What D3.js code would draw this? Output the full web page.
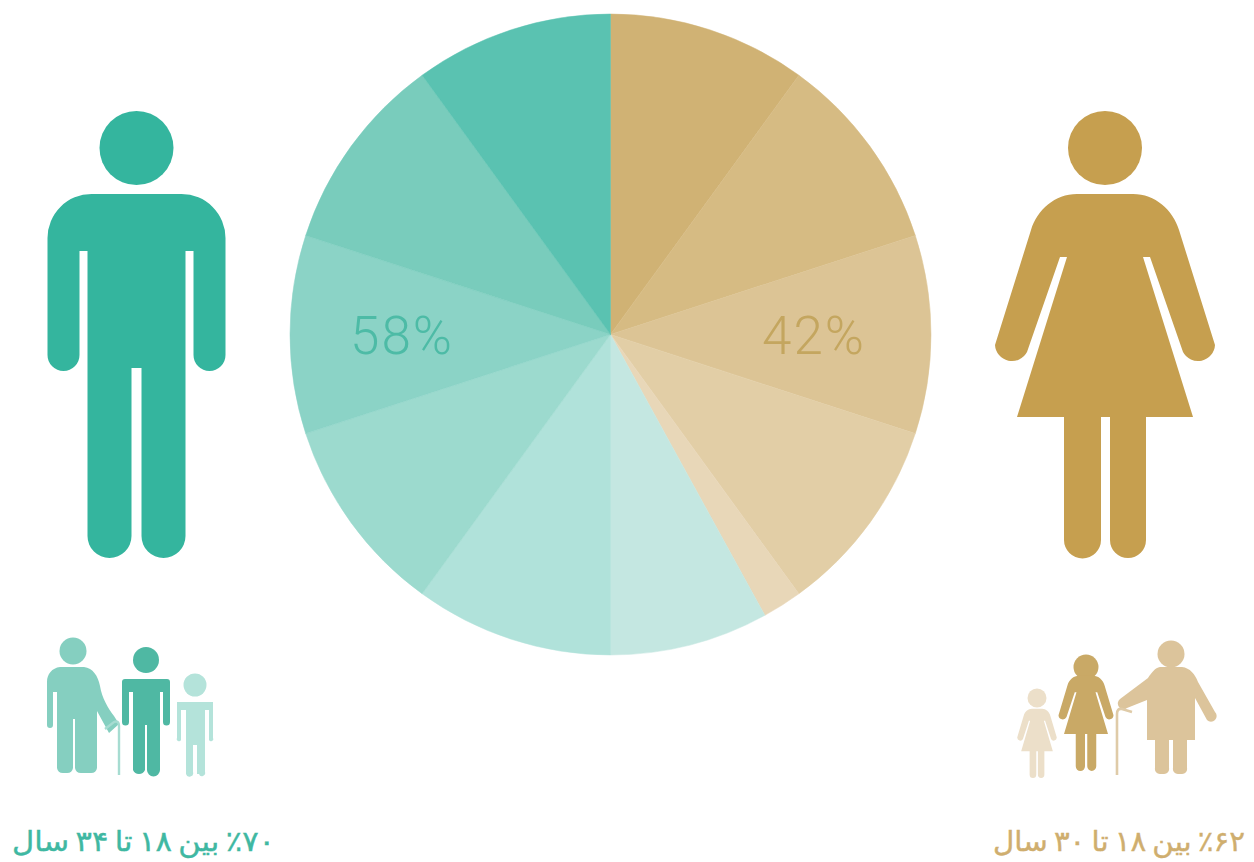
<!DOCTYPE html>
<html>
<head>
<meta charset="utf-8">
<script src="https://cdn.jsdelivr.net/npm/d3@7"></script>
<style>
body { margin: 0; background: #fff; }
svg { display: block; }
</style>
</head>
<body>
<script>
// slices, clockwise from 12 o'clock
var sliceValues = [10, 10, 10, 10, 2, 8, 10, 10, 10, 10, 10];
var sliceColors = ["#d0b274", "#d6bb83", "#dcc495", "#e2cea6", "#e8d7b8",
                   "#c4e7e1", "#b0e2da", "#9cdace", "#8bd3c6", "#79ccbc", "#5ac2b1"];
var shareLabels = ["58%", "42%"];
var captions = ["٪۷۰ بین ۱۸ تا ۳۴ سال", "٪۶۲ بین ۱۸ تا ۳۰ سال"];

var teal = "#34b59e";
var gold = "#c69f4f";

var w = 1254;
var h = 862;

var svg = d3.select("body").append("svg")
    .attr("width", w)
    .attr("height", h);

// pie
var pie = d3.pie().sort(null);
var arc = d3.arc().innerRadius(0).outerRadius(320.5);

svg.append("g")
    .attr("transform", "translate(610.5,334.5)")
    .selectAll("path")
    .data(pie(sliceValues))
    .enter()
    .append("path")
    .attr("d", arc)
    .attr("fill", function(d, i) { return sliceColors[i]; })
    .attr("stroke", function(d, i) { return sliceColors[i]; })
    .attr("stroke-width", 0.5);

svg.selectAll("text.share")
    .data(shareLabels)
    .enter()
    .append("text")
    .attr("class", "share")
    .attr("x", function(d, i) { return i == 0 ? 402 : 814; })
    .attr("y", 354)
    .attr("text-anchor", "middle")
    .attr("font-family", "Roboto, Lato, sans-serif")
    .attr("font-weight", 300)
    .attr("font-size", 53)
    .attr("letter-spacing", 2)
    .attr("fill", function(d, i) { return i == 0 ? "#4dbba6" : "#c4a65f"; })
    .text(function(d) { return d; });

// big man, drawn round x=0 with head above
var manPath = "M-45,194 H45 A44,44 0 0 1 89,238 V355 A16,16 0 0 1 57,355 V251 H49 V536 A22,22 0 0 1 5,536 V368 H-5 V536 A22,22 0 0 1 -49,536 V251 H-57 V355 A16,16 0 0 1 -89,355 V238 A44,44 0 0 1 -45,194 Z";
// big woman, same idea
var womanPath = "M-28,194 H28 C50,194 68,210 74,230 L110,345 A17,17 0 0 1 78,352 L45,257 H38 L88,417 H41 V540 A18,18 0 0 1 5,540 V417 H-4 V540 A18,18 0 0 1 -41,540 V417 H-88 L-38,257 H-45 L-78,352 A17,17 0 0 1 -110,345 L-74,230 C-68,210 -50,194 -28,194 Z";

function person(path, x, y, sx, sy, color, head) {
  svg.append("circle").attr("cx", x).attr("cy", head[0]).attr("r", head[1]).attr("fill", color);
  svg.append("path")
    .attr("d", path)
    .attr("transform", "translate(" + x + "," + y + ") scale(" + sx + "," + sy + ")")
    .attr("fill", color);
}

person(manPath, 136.5, 0, 1, 1, teal, [148, 37]);
person(womanPath, 1105, 0, 1, 1, gold, [148, 37]);

// small family, left
svg.append("circle").attr("cx", 73).attr("cy", 651).attr("r", 13.5).attr("fill", "#85cfc0");
svg.append("path")
    .attr("d", "M60,667 H84 C93,668 98,676 100,686 C102,698 108,708 114,716 L119,724 L109,733 L97,711 V768 A6,6 0 0 1 91,773 H81 A6,6 0 0 1 75,768 V719 H73 V768 A6,6 0 0 1 67,773 H63 A6,6 0 0 1 57,768 V692 H53 V725 A3,3 0 0 1 47,725 V682 C47,674 52,668 60,667 Z")
    .attr("fill", "#85cfc0");
svg.append("path")
    .attr("d", "M105,729 L114,722 Q119,720 119,726 V775")
    .attr("fill", "none")
    .attr("stroke", "#a6dcd1")
    .attr("stroke-width", 2.4);
svg.append("circle").attr("cx", 146).attr("cy", 660).attr("r", 13).attr("fill", "#4fb8a3");
svg.append("path")
    .attr("d", "M125,679 H167 Q170,679 170,682 V722 A3.5,3.5 0 0 1 163,722 V692 H160 V770 A6.5,6.5 0 0 1 147,770 V725 H145 V770 A6.5,6.5 0 0 1 133,770 V692 H129 V722 A3.5,3.5 0 0 1 122,722 V682 Q122,679 125,679 Z")
    .attr("fill", "#4fb8a3");
svg.append("circle").attr("cx", 195).attr("cy", 685).attr("r", 11.5).attr("fill", "#b4e3da");
svg.append("path")
    .attr("d", "M177,702 H213 V738 A2,2 0 0 1 209,740 V710 H205 V772 A3,3 0 0 1 199,774 H197 V745 H193 V772 A3,3 0 0 1 186,774 V710 H181 V740 A2,2 0 0 1 177,738 Z")
    .attr("fill", "#b4e3da");

// small family, right
svg.append("circle").attr("cx", 1171).attr("cy", 654).attr("r", 13.5).attr("fill", "#dcc49b");
svg.append("path")
    .attr("d", "M1160,667 H1182 C1190,668 1195,674 1198,682 L1215,712 A5,5 0 0 1 1207,720 L1195,698 V740 H1187 V768 A5,5 0 0 1 1182,774 H1178 A5,5 0 0 1 1173,768 V740 H1169 V768 A5,5 0 0 1 1164,774 H1160 A5,5 0 0 1 1155,768 V740 H1147 V700 L1127,708 A4.5,4.5 0 0 1 1120,699 L1148,678 C1152,672 1155,668 1160,667 Z")
    .attr("fill", "#dcc49b");
svg.append("path")
    .attr("d", "M1132,712 L1122,709 Q1117,708 1117,714 V775")
    .attr("fill", "none")
    .attr("stroke", "#dfcba8")
    .attr("stroke-width", 2.6);
person(womanPath, 1086, 625, 0.25, 0.2615, "#c9a966", [667, 12.5]);
person(womanPath, 1037, 672, 0.18, 0.19, "#ecdfc9", [698, 9.5]);

// captions
svg.selectAll("text.caption")
    .data(captions)
    .enter()
    .append("text")
    .attr("class", "caption")
    .attr("x", function(d, i) { return i == 0 ? 275 : 1245; })
    .attr("y", 851)
    .attr("direction", "rtl")
    .attr("font-family", "'DejaVu Sans', sans-serif")
    .attr("font-size", 28)
    .attr("word-spacing", -3)
    .attr("textLength", function(d, i) { return i == 0 ? 263 : 252; })
    .attr("lengthAdjust", "spacingAndGlyphs")
    .attr("fill", function(d, i) { return i == 0 ? "#3fb8a2" : "#cfae6e"; })
    .attr("stroke", function(d, i) { return i == 0 ? "#3fb8a2" : "#cfae6e"; })
    .attr("stroke-width", 0.4)
    .text(function(d) { return d; });
</script>
</body>
</html>
